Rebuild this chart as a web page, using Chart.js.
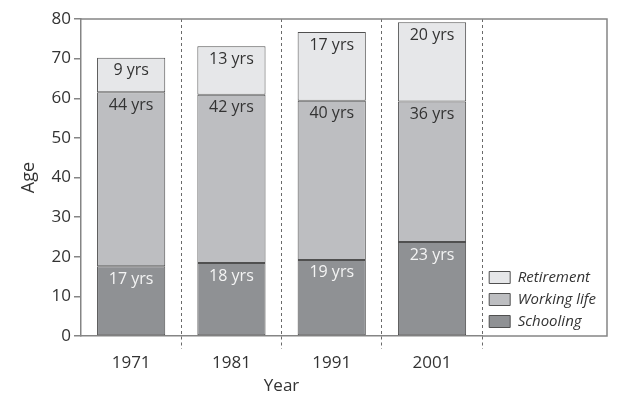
<!DOCTYPE html>
<html>
<head>
<meta charset="utf-8">
<script src="https://cdn.jsdelivr.net/npm/chart.js@4.4.0/dist/chart.umd.min.js"></script>
<style>
  html, body { margin: 0; padding: 0; background: #fff; }
</style>
</head>
<body>
<canvas id="chart_ages" width="624" height="397"></canvas>
<script>
const years = ['1971', '1981', '1991', '2001'];
const schooling = [17.6, 18.4, 19.2, 23.7];
const workingLife = [43.9, 42.5, 40.2, 35.5];
const retirement = [8.7, 12.2, 17.3, 20.0];
const schoolingText = ['17 yrs', '18 yrs', '19 yrs', '23 yrs'];
const workingText = ['44 yrs', '42 yrs', '40 yrs', '36 yrs'];
const retirementText = ['9 yrs', '13 yrs', '17 yrs', '20 yrs'];

const FONT = '"Open Sans", "DejaVu Sans", sans-serif';
const AXIS = '#858585';
const INK = '#333333';

const segmentText = [schoolingText, workingText, retirementText];

// "9 yrs" etc. written inside each segment, near its top
const barLabels = {
    id: 'barLabels',
    afterDatasetsDraw(chart) {
        const ctx = chart.ctx;
        ctx.save();
        ctx.font = '16px ' + FONT;
        ctx.textAlign = 'center';
        ctx.textBaseline = 'middle';
        chart.data.datasets.forEach((ds, i) => {
            chart.getDatasetMeta(i).data.forEach((bar, j) => {
                ctx.fillStyle = i === 0 ? '#f4f4f4' : INK;
                ctx.fillText(segmentText[i][j], bar.x, bar.y + 13);
            });
        });
        ctx.restore();
    }
};

// box round the plot, carried on past the legend
const frame = {
    id: 'frame',
    afterDraw(chart) {
        const { ctx, chartArea } = chart;
        const right = chart.width - 17;
        ctx.save();
        ctx.strokeStyle = AXIS;
        ctx.lineWidth = 1.5;
        ctx.beginPath();
        ctx.moveTo(chartArea.left, chartArea.top);
        ctx.lineTo(right, chartArea.top);
        ctx.lineTo(right, chartArea.bottom);
        ctx.lineTo(chartArea.right, chartArea.bottom);
        ctx.stroke();
        ctx.restore();
    }
};

const data = {
    labels: years,
    datasets: [
        {
            label: 'Schooling',
            data: schooling,
            backgroundColor: '#8f9194',
        },
        {
            label: 'Working life',
            data: workingLife,
            backgroundColor: '#bdbec1',
        },
        {
            label: 'Retirement',
            data: retirement,
            backgroundColor: '#e6e7e9',
        },
    ]
};

const config = {
    type: 'bar',
    data: data,
    plugins: [barLabels, frame],
    options: {
        responsive: false,
        animation: false,
        layout: {
            padding: { top: 19, right: 18, bottom: 0, left: 0 }
        },
        datasets: {
            bar: {
                borderColor: '#505050',
                borderWidth: 1,
                borderSkipped: false,
                categoryPercentage: 1,
                barPercentage: 0.68,
            }
        },
        plugins: {
            legend: {
                position: 'right',
                align: 'end',
                fullSize: false,
                reverse: true,
                labels: {
                    boxWidth: 21,
                    boxHeight: 12,
                    padding: 7,
                    color: INK,
                    font: { family: FONT, size: 15, style: 'italic' }
                }
            },
            tooltip: { enabled: false }
        },
        scales: {
            x: {
                stacked: true,
                afterFit(scale) { scale.height = 61; },
                grid: {
                    offset: true,
                    drawOnChartArea: true,
                    tickLength: 13,
                    tickBorderDash: [3, 3],
                    color: (c) => c.index === 0 ? 'rgba(0,0,0,0)' : '#6a6a6a',
                },
                border: { color: AXIS, width: 1.5, dash: [3, 3] },
                ticks: {
                    color: INK,
                    padding: 4,
                    font: { family: FONT, size: 17 }
                },
                title: {
                    display: true,
                    text: 'Year',
                    color: INK,
                    padding: { top: 0, bottom: 1 },
                    font: { family: FONT, size: 17 }
                }
            },
            y: {
                stacked: true,
                min: 0,
                max: 80,
                afterFit(scale) { scale.width = 81; },
                grid: {
                    drawOnChartArea: false,
                    tickLength: 7,
                    color: AXIS,
                    lineWidth: 1.5,
                },
                border: { color: AXIS, width: 1.5 },
                ticks: {
                    stepSize: 10,
                    color: INK,
                    padding: 3,
                    font: { family: FONT, size: 17 }
                },
                title: {
                    display: true,
                    text: 'Age',
                    color: INK,
                    padding: { top: 18, bottom: 0 },
                    font: { family: FONT, size: 18 }
                }
            }
        }
    }
};

new Chart(document.getElementById('chart_ages'), config);
</script>
</body>
</html>
